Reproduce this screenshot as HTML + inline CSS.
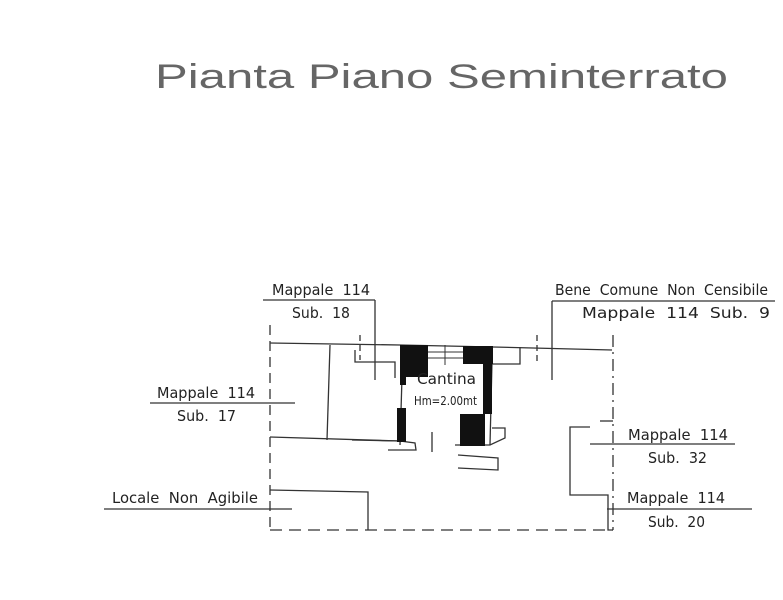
<!DOCTYPE html>
<html><head><meta charset="utf-8"><style>
html,body{margin:0;padding:0;background:#fff;width:783px;height:600px;overflow:hidden}
svg{display:block}
text{font-family:"DejaVu Sans Condensed","Liberation Sans Narrow","Liberation Sans",sans-serif;fill:#222}
</style></head><body>
<svg width="783" height="600" viewBox="0 0 783 600" xmlns="http://www.w3.org/2000/svg">
<text x="155" y="88" font-size="34" textLength="573" lengthAdjust="spacingAndGlyphs" style="font-family:'DejaVu Sans ExtraLight','Liberation Sans',sans-serif;fill:#666;font-weight:200">Pianta Piano Seminterrato</text>
<g stroke="#333" stroke-width="1.3" fill="none">
<line x1="263" y1="300" x2="375" y2="300"/><line x1="375" y1="300" x2="375" y2="380"/>
<line x1="552" y1="301" x2="775" y2="301"/><line x1="552" y1="301" x2="552" y2="380"/>
<line x1="150" y1="403" x2="295" y2="403"/>
<line x1="104" y1="509" x2="292" y2="509"/>
<line x1="590" y1="444" x2="735" y2="444"/>
<line x1="607" y1="509" x2="752" y2="509"/>
<line x1="270" y1="325" x2="270" y2="530" stroke-dasharray="10,6"/>
<line x1="270" y1="530" x2="613" y2="530" stroke-dasharray="12,7"/>
<line x1="613" y1="335" x2="613" y2="530" stroke-dasharray="12,5,2,5"/>
<polyline points="270,343 400,345 493,347 612,350"/>
<line x1="330" y1="345" x2="327" y2="440"/>
<line x1="270" y1="437" x2="400" y2="441"/>
<polyline points="355,350 355,362 395,362 395,378"/>
<line x1="360" y1="335" x2="360" y2="360" stroke-dasharray="6,4"/>
<line x1="537" y1="335" x2="537" y2="362" stroke-dasharray="6,4"/>
<polyline points="520,347 520,364 492,364"/>
<polyline points="402,377 400,445"/>
<polyline points="492,362 490,445"/>
<polyline points="352,440 400,441 415,443 416,450 388,450"/>
<polyline points="455,445 490,445 505,438 505,428 492,428"/>
<polyline points="458,455 498,458 498,470 458,468"/>
<line x1="432" y1="432" x2="432" y2="452"/>
<polyline points="270,490 368,492 368,530"/>
<polyline points="590,427 570,427 570,495 608,495 608,530 613,530"/>
<line x1="600" y1="421" x2="613" y2="421"/>
</g>
<g fill="#111">
<rect x="400" y="345" width="28" height="32"/>
<rect x="400" y="377" width="6" height="8"/>
<rect x="463" y="346" width="30" height="18"/>
<rect x="483" y="364" width="9" height="50"/>
<rect x="397" y="408" width="9" height="34"/>
<rect x="460" y="414" width="25" height="32"/>
</g>
<g stroke="#333" stroke-width="1" fill="none">
<line x1="428" y1="352" x2="463" y2="352"/><line x1="428" y1="358" x2="463" y2="358"/>
<line x1="445" y1="345" x2="445" y2="365"/>
</g>
<text x="417" y="384" font-size="15" textLength="59" lengthAdjust="spacingAndGlyphs">Cantina</text>
<text x="414" y="405" font-size="12" textLength="63" lengthAdjust="spacingAndGlyphs">Hm=2.00mt</text>
<g font-size="15">
<text x="272" y="295" textLength="98" lengthAdjust="spacingAndGlyphs">Mappale&#160;&#160;114</text>
<text x="292" y="318" textLength="58" lengthAdjust="spacingAndGlyphs">Sub.&#160;&#160;18</text>
<text x="555" y="295" textLength="213" lengthAdjust="spacingAndGlyphs">Bene&#160;&#160;Comune&#160;&#160;Non&#160;&#160;Censibile</text>
<text x="582" y="318" textLength="188" lengthAdjust="spacingAndGlyphs">Mappale&#160;&#160;114&#160;&#160;Sub.&#160;&#160;9</text>
<text x="157" y="398" textLength="98" lengthAdjust="spacingAndGlyphs">Mappale&#160;&#160;114</text>
<text x="177" y="421" textLength="59" lengthAdjust="spacingAndGlyphs">Sub.&#160;&#160;17</text>
<text x="112" y="503" textLength="146" lengthAdjust="spacingAndGlyphs">Locale&#160;&#160;Non&#160;&#160;Agibile</text>
<text x="628" y="440" textLength="100" lengthAdjust="spacingAndGlyphs">Mappale&#160;&#160;114</text>
<text x="648" y="463" textLength="59" lengthAdjust="spacingAndGlyphs">Sub.&#160;&#160;32</text>
<text x="627" y="503" textLength="98" lengthAdjust="spacingAndGlyphs">Mappale&#160;&#160;114</text>
<text x="648" y="527" textLength="57" lengthAdjust="spacingAndGlyphs">Sub.&#160;&#160;20</text>
</g>
</svg>
</body></html>
